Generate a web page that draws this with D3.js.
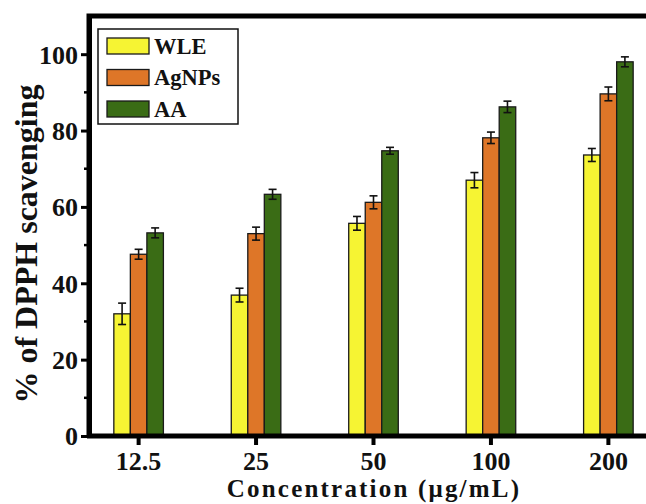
<!DOCTYPE html>
<html>
<head>
<meta charset="utf-8">
<script src="https://cdn.jsdelivr.net/npm/d3@7"></script>
<style>
  body { margin: 0; background: #fff; }
  svg { display: block; }
  text { font-family: "Liberation Serif", "Times New Roman", serif; font-weight: bold; fill: #111; }
</style>
</head>
<body>
<div id="chart"></div>
<script>
const concentrations = ['12.5', '25', '50', '100', '200'];
const seriesNames = ['WLE', 'AgNPs', 'AA'];
const wleValues = [32.0, 36.9, 55.7, 67.0, 73.6];
const wleErrors = [2.8, 1.8, 1.8, 2.0, 1.7];
const agnpValues = [47.6, 53.0, 61.2, 78.1, 89.6];
const agnpErrors = [1.3, 1.7, 1.7, 1.5, 1.8];
const aaValues = [53.2, 63.3, 74.7, 86.2, 98.0];
const aaErrors = [1.3, 1.3, 0.9, 1.5, 1.3];
const yTicks = [0, 20, 40, 60, 80, 100];
const yMinorTicks = [10, 30, 50, 70, 90];

const COLORS = { WLE: '#f6f433', AgNPs: '#de7628', AA: '#3a6c15' };

const series = [
  { name: 'WLE', values: wleValues, errors: wleErrors },
  { name: 'AgNPs', values: agnpValues, errors: agnpErrors },
  { name: 'AA', values: aaValues, errors: aaErrors },
];

const W = 646, H = 504;
const plot = { left: 89, right: 659, top: 16, bottom: 436 };

const svg = d3.select('#chart').append('svg')
  .attr('width', W).attr('height', H);

// Scales
const x = d3.scaleBand().domain(concentrations).range([plot.left - 1, plot.right])
  .paddingInner(0.578).paddingOuter(0.22);
const xs = d3.scaleBand().domain(seriesNames).range([0, x.bandwidth()]);
const y = d3.scaleLinear().domain([0, 110]).range([plot.bottom, plot.top]);

// Bars
const rows = series.flatMap(s => s.values.map((v, i) => ({
  name: s.name, cat: concentrations[i], value: v, err: s.errors[i]
})));

svg.append('g').selectAll('rect')
  .data(rows)
  .join('rect')
  .attr('x', d => x(d.cat) + xs(d.name))
  .attr('y', d => y(d.value))
  .attr('width', xs.bandwidth())
  .attr('height', d => y(0) - y(d.value))
  .attr('fill', d => COLORS[d.name])
  .attr('stroke', '#1a1a1a')
  .attr('stroke-width', 1.3);

// Error bars
const eb = svg.append('g').attr('stroke', '#111').attr('stroke-width', 1.6);
rows.forEach(d => {
  const cx = x(d.cat) + xs(d.name) + xs.bandwidth() / 2;
  eb.append('line').attr('x1', cx).attr('x2', cx)
    .attr('y1', y(d.value + d.err)).attr('y2', y(d.value - d.err));
  [d.value + d.err, d.value - d.err].forEach(v => {
    eb.append('line').attr('x1', cx - 4).attr('x2', cx + 4)
      .attr('y1', y(v)).attr('y2', y(v));
  });
});

// Frame (top line; right side falls outside the picture)
svg.append('path')
  .attr('d', `M${plot.left},${plot.bottom} V${plot.top} H${plot.right + 20}`)
  .attr('fill', 'none').attr('stroke', '#000').attr('stroke-width', 5);

// Axes
const yAxis = svg.append('g')
  .attr('transform', `translate(${plot.left},0)`)
  .call(d3.axisLeft(y).tickValues(yTicks).tickSize(8).tickPadding(3).tickSizeOuter(0));
yAxis.select('.domain').attr('stroke-width', 5).attr('stroke', '#000');
yAxis.selectAll('.tick line').attr('stroke-width', 3);
yAxis.selectAll('.tick text').attr('font-size', 26).attr('dy', '0.34em');

svg.append('g').selectAll('line')
  .data(yMinorTicks)
  .join('line')
  .attr('x1', plot.left - 5).attr('x2', plot.left)
  .attr('y1', d => y(d)).attr('y2', d => y(d))
  .attr('stroke', '#000').attr('stroke-width', 2.5);

const xAxis = svg.append('g')
  .attr('transform', `translate(0,${plot.bottom})`)
  .call(d3.axisBottom(x).tickSize(9).tickPadding(4).tickSizeOuter(0));
xAxis.select('.domain').attr('stroke-width', 5).attr('stroke', '#000')
  .attr('d', `M${plot.left - 2},0H${plot.right + 20}`);
xAxis.selectAll('.tick line').attr('stroke-width', 4);
xAxis.selectAll('.tick text').attr('font-size', 26).attr('dy', '0.8em');

// Axis titles
svg.append('text')
  .attr('x', 374).attr('y', 497)
  .attr('text-anchor', 'middle')
  .attr('font-size', 25)
  .attr('letter-spacing', 2.2)
  .text('Concentration (\u03bcg/mL)');

svg.append('text')
  .attr('transform', `translate(37,${244}) rotate(-90)`)
  .attr('text-anchor', 'middle')
  .attr('font-size', 32)
  .text('% of DPPH scavenging');

// Legend
const legend = svg.append('g');
legend.append('rect')
  .attr('x', 98).attr('y', 29).attr('width', 140).attr('height', 95)
  .attr('fill', '#fff').attr('stroke', '#111').attr('stroke-width', 1.5);
seriesNames.forEach((name, i) => {
  const cy = 46 + i * 31.5;
  legend.append('rect')
    .attr('x', 107).attr('y', cy - 8).attr('width', 42).attr('height', 16)
    .attr('fill', COLORS[name]).attr('stroke', '#1a1a1a').attr('stroke-width', 1.3);
  legend.append('text')
    .attr('x', 154).attr('y', cy).attr('dy', '0.35em')
    .attr('font-size', 22.5)
    .text(name);
});
</script>
</body>
</html>
